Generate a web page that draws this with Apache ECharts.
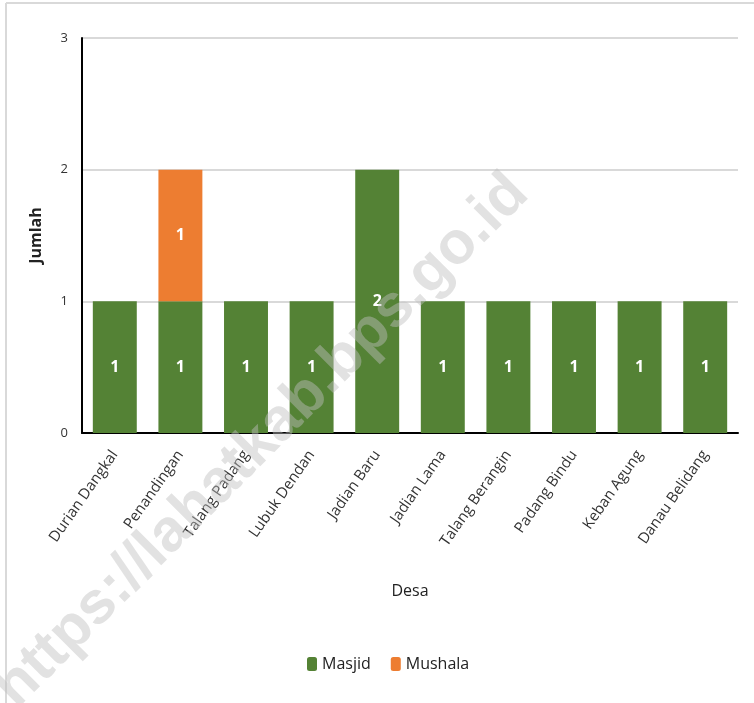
<!DOCTYPE html>
<html>
<head>
<meta charset="utf-8">
<script src="https://cdn.jsdelivr.net/npm/echarts@6/dist/echarts.min.js"></script>
<style>
  html, body { margin: 0; padding: 0; background: #fff; }
  #chart { width: 754px; height: 703px; }
</style>
</head>
<body>
<div id="chart"></div>
<script>
// data
const desa = ['Durian Dangkal', 'Penandingan', 'Talang Padang', 'Lubuk Dendan', 'Jadian Baru',
  'Jadian Lama', 'Talang Berangin', 'Padang Bindu', 'Keban Agung', 'Danau Belidang']
const masjid = [1, 1, 1, 1, 2, 1, 1, 1, 1, 1]
const mushala = [0, 1, 0, 0, 0, 0, 0, 0, 0, 0]
const yTicks = [0, 1, 2, 3]

const font = 'Open Sans'
const chart = echarts.init(document.getElementById('chart'))

const labelOpt = {
  show: true,
  position: 'inside',
  color: '#fff',
  fontWeight: 'bold',
  fontSize: 16,
  fontFamily: font,
  formatter: p => (p.value ? p.value : '')
}

chart.setOption({
  animation: false,
  textStyle: { fontFamily: font },
  grid: { left: 82, right: 16, top: 38, bottom: 270 },
  legend: {
    bottom: 26,
    left: 302,
    itemWidth: 10,
    itemHeight: 14,
    itemGap: 20,
    textStyle: { fontSize: 16, color: '#222', fontFamily: font },
    data: ['Masjid', 'Mushala']
  },
  xAxis: {
    type: 'category',
    data: desa,
    name: 'Desa',
    nameLocation: 'middle',
    nameGap: 150,
    nameTextStyle: { fontSize: 16, color: '#222', fontFamily: font },
    axisLine: { lineStyle: { color: '#000', width: 2 } },
    axisTick: { show: false },
    axisLabel: { rotate: 55, fontSize: 15, color: '#333', margin: 19, interval: 0 }
  },
  yAxis: {
    type: 'value',
    min: yTicks[0],
    max: yTicks[yTicks.length - 1],
    interval: 1,
    name: 'Jumlah',
    nameLocation: 'middle',
    nameGap: 38,
    nameTextStyle: { fontSize: 16, fontWeight: 'bold', color: '#222', fontFamily: font },
    axisLine: { show: true, lineStyle: { color: '#000', width: 2 } },
    axisTick: { show: false },
    axisLabel: { fontSize: 13, color: '#333', margin: 14 },
    splitLine: { lineStyle: { color: '#d9d9d9', width: 2 } }
  },
  series: [
    {
      name: 'Masjid',
      type: 'bar',
      stack: 'total',
      barWidth: '67%',
      itemStyle: { color: '#548235' },
      label: labelOpt,
      data: masjid
    },
    {
      name: 'Mushala',
      type: 'bar',
      stack: 'total',
      barWidth: '67%',
      itemStyle: { color: '#ed7d31' },
      label: labelOpt,
      data: mushala
    }
  ],
  graphic: [
    // frame of the chart area
    { type: 'line', shape: { x1: 6, y1: 3, x2: 754, y2: 3 }, style: { stroke: '#d9d9d9', lineWidth: 2 }, silent: true },
    { type: 'line', shape: { x1: 6, y1: 3, x2: 6, y2: 703 }, style: { stroke: '#d9d9d9', lineWidth: 2 }, silent: true },
    // watermark
    {
      type: 'text',
      x: 262,
      y: 441,
      rotation: Math.PI / 4,
      z: 100,
      silent: true,
      style: {
        text: 'https://lahatkab.bps.go.id',
        fontSize: 60,
        fontWeight: 'bold',
        fontFamily: 'Liberation Sans',
        fill: 'rgba(190,190,190,0.45)',
        align: 'center',
        verticalAlign: 'middle'
      }
    }
  ]
})
</script>
</body>
</html>
